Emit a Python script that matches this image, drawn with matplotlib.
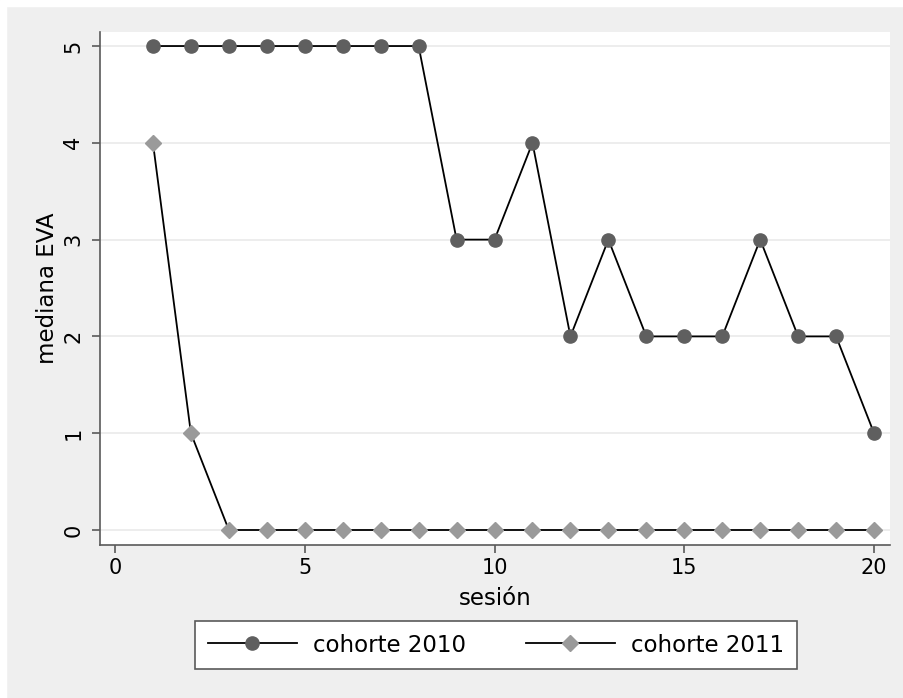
import numpy as np
import matplotlib.pyplot as plt
from matplotlib.patches import Rectangle

# data
sesion = list(range(1, 21))
eva_2010 = [5, 5, 5, 5, 5, 5, 5, 5, 3, 3, 4, 2, 3, 2, 2, 2, 3, 2, 2, 1]
eva_2011 = [4, 1, 0, 0, 0, 0, 0, 0, 0, 0, 0, 0, 0, 0, 0, 0, 0, 0, 0, 0]
xticks = [0, 5, 10, 15, 20]
yticks = [0, 1, 2, 3, 4, 5]

bg = '#efefef'
axcol = '#5a5a5a'

fig = plt.figure(figsize=(9.04, 6.98), dpi=100, facecolor=bg)
# thin white border on the top and left edges, like the source image
fig.patches.append(Rectangle((0, 0), 6 / 904, 1, transform=fig.transFigure, color='white', zorder=0))
fig.patches.append(Rectangle((0, 1 - 6 / 698), 1, 6 / 698, transform=fig.transFigure, color='white', zorder=0))

ax = fig.add_axes([100 / 904, 153 / 698, 790 / 904, 513 / 698])
ax.set_facecolor('white')

ax.plot(sesion, eva_2010, color='black', lw=1.3, marker='o', ms=9.5,
        mfc='#5f5f5f', mec='#5f5f5f', label='cohorte 2010', zorder=3)
ax.plot(sesion, eva_2011, color='black', lw=1.3, marker='D', ms=8.5,
        mfc='#9a9a9a', mec='#9a9a9a', label='cohorte 2011', zorder=3)

ax.set_xlim(-0.395, 20.42)
ax.set_ylim(-0.155, 5.145)
ax.set_xticks(xticks)
ax.set_yticks(yticks)
ax.grid(axis='y', color='#eaeaea', lw=1.2)
ax.set_axisbelow(True)

for s in ['top', 'right']:
    ax.spines[s].set_visible(False)
for s in ['left', 'bottom']:
    ax.spines[s].set_color(axcol)
    ax.spines[s].set_linewidth(1.2)

ax.tick_params(axis='both', colors=axcol, labelcolor='black', length=6, width=1.2, labelsize=15)
plt.setp(ax.get_yticklabels(), rotation=90, va='center')
ax.tick_params(axis='y', pad=6)

ax.set_xlabel('sesión', fontsize=16.5, labelpad=6)
ax.set_ylabel('mediana EVA', fontsize=16.5, labelpad=3)

# legend centred under the plot area
leg = fig.legend(loc='center', bbox_to_anchor=(496 / 904, 1 - 645 / 698), ncol=2,
                 fontsize=16.5, frameon=True, fancybox=False, framealpha=1,
                 handlelength=3.9, handletextpad=0.7, columnspacing=2.6, borderpad=0.55)
leg.get_frame().set_edgecolor(axcol)
leg.get_frame().set_linewidth(1.2)

plt.savefig('out.png', dpi=100, facecolor=bg)
